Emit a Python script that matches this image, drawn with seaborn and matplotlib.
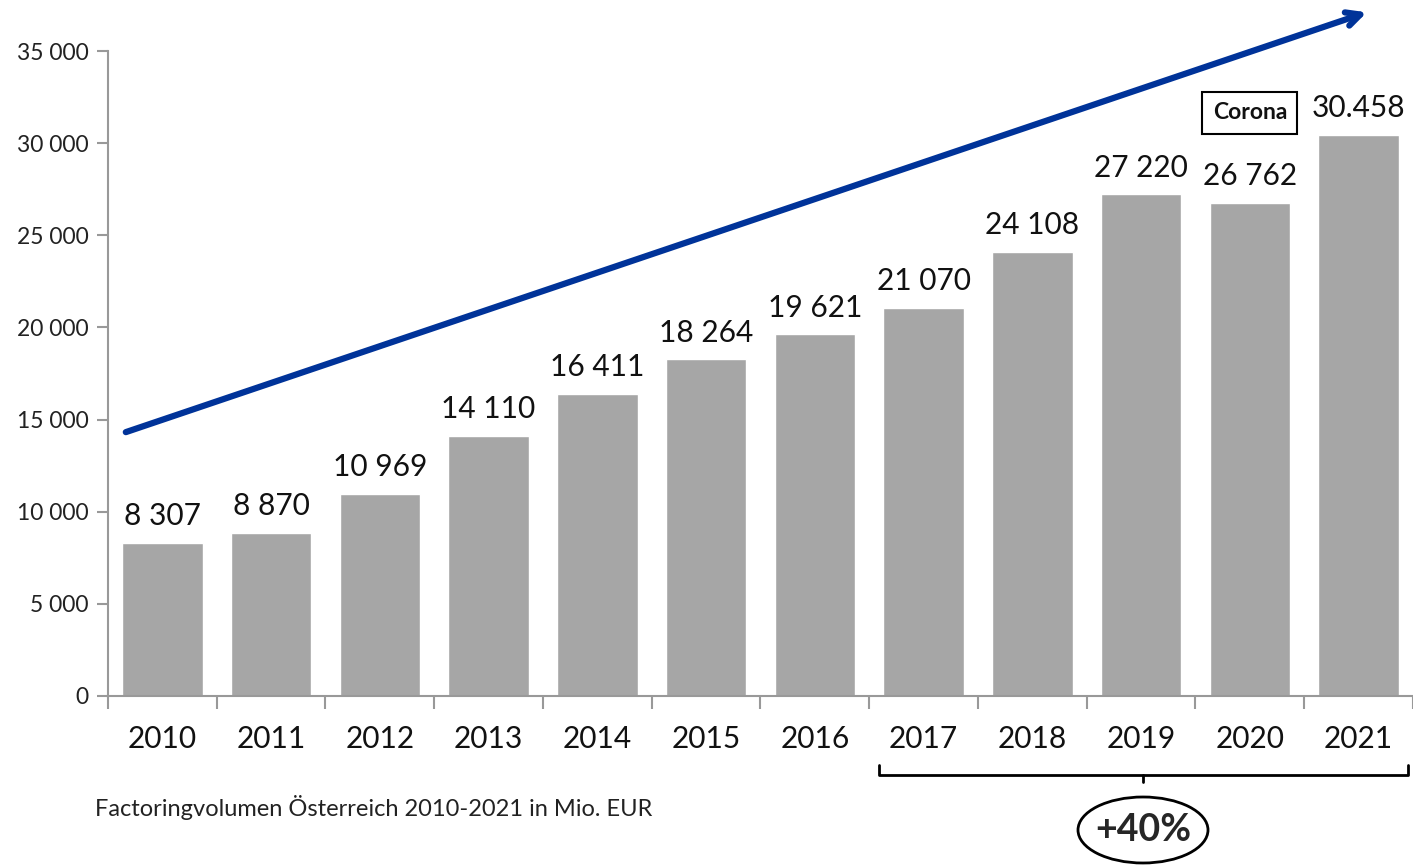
import numpy as np
import matplotlib.pyplot as plt
import seaborn as sns
import pandas as pd
from matplotlib.patches import Ellipse
from matplotlib.ticker import FixedLocator, FuncFormatter

jahre = ["2010", "2011", "2012", "2013", "2014", "2015",
         "2016", "2017", "2018", "2019", "2020", "2021"]
volumen = [8307, 8870, 10969, 14110, 16411, 18264,
           19621, 21070, 24108, 27220, 26762, 30458]
beschriftung = ["8 307", "8 870", "10 969", "14 110", "16 411", "18 264",
                "19 621", "21 070", "24 108", "27 220", "26 762", "30.458"]
y_ticks = [0, 5000, 10000, 15000, 20000, 25000, 30000, 35000]

sns.set_style("white")
plt.rcParams["font.family"] = ["Lato", "DejaVu Sans"]

df = pd.DataFrame({"Jahr": jahre, "Volumen": volumen})

fig = plt.figure(figsize=(14.13, 8.65), dpi=100)
ax = fig.add_axes([0.0764, 0.1954, 0.9236, 0.7456])

sns.barplot(data=df, x="Jahr", y="Volumen", color="#a6a6a6", saturation=1,
            width=0.74, ax=ax)

for i, (v, t) in enumerate(zip(volumen, beschriftung)):
    ax.annotate(t, (i, v), xytext=(0, 9), textcoords="offset points",
                ha="center", va="bottom", fontsize=21.5, color="#111111")

ax.set_xlim(-0.5, 11.5)
ax.set_ylim(0, 35000)
ax.set_yticks(y_ticks)
ax.yaxis.set_major_formatter(FuncFormatter(lambda v, p: f"{int(v):,}".replace(",", " ")))
ax.set_xlabel("")
ax.set_ylabel("")

ax.xaxis.set_minor_locator(FixedLocator(np.arange(-0.5, 12, 1)))
ax.tick_params(axis="x", which="major", length=0, labelsize=21.5, pad=21,
               labelcolor="#111111")
ax.tick_params(axis="x", which="minor", length=9, width=1.5, color="#999999",
               direction="out", bottom=True)
ax.tick_params(axis="y", length=8, width=1.5, color="#999999", direction="out",
               left=True, labelsize=16.5, labelcolor="#222222", pad=6)

for s in ["top", "right"]:
    ax.spines[s].set_visible(False)
for s in ["left", "bottom"]:
    ax.spines[s].set_color("#999999")
    ax.spines[s].set_linewidth(1.5)

# Trendpfeil
ax.annotate("", xy=(11.1, 37150), xytext=(-0.36, 14270),
            arrowprops=dict(arrowstyle="->,head_length=1.0,head_width=0.5",
                            color="#003399", lw=4.5),
            annotation_clip=False)

# Corona Box
ax.text(10.0, 31640, "Corona", ha="center", va="center", fontsize=16.5,
        fontweight="bold", color="#111111",
        bbox=dict(boxstyle="square,pad=0.45", fc="white", ec="black", lw=1.5))

# Klammer 2017-2021
tr = ax.get_xaxis_transform()
ax.plot([6.59, 6.59, 11.45, 11.45], [-0.107, -0.1225, -0.1225, -0.107],
        color="black", lw=2, transform=tr, clip_on=False)
ax.plot([9.02, 9.02], [-0.1225, -0.134], color="black", lw=2,
        transform=tr, clip_on=False)

cx, cy = 1143 / 1413, 1 - 830 / 865
fig.patches.append(Ellipse((cx, cy), 130 / 1413, 66 / 865, transform=fig.transFigure,
                           fc="white", ec="black", lw=2))
fig.text(cx, cy, "+40%", ha="center", va="center",
         fontsize=27, fontweight="bold")

fig.text(95 / 1413, 1 - 807 / 865, "Factoringvolumen Österreich 2010-2021 in Mio. EUR",
         ha="left", va="center", fontsize=17, color="#222222")

plt.savefig("out.png", dpi=100)
